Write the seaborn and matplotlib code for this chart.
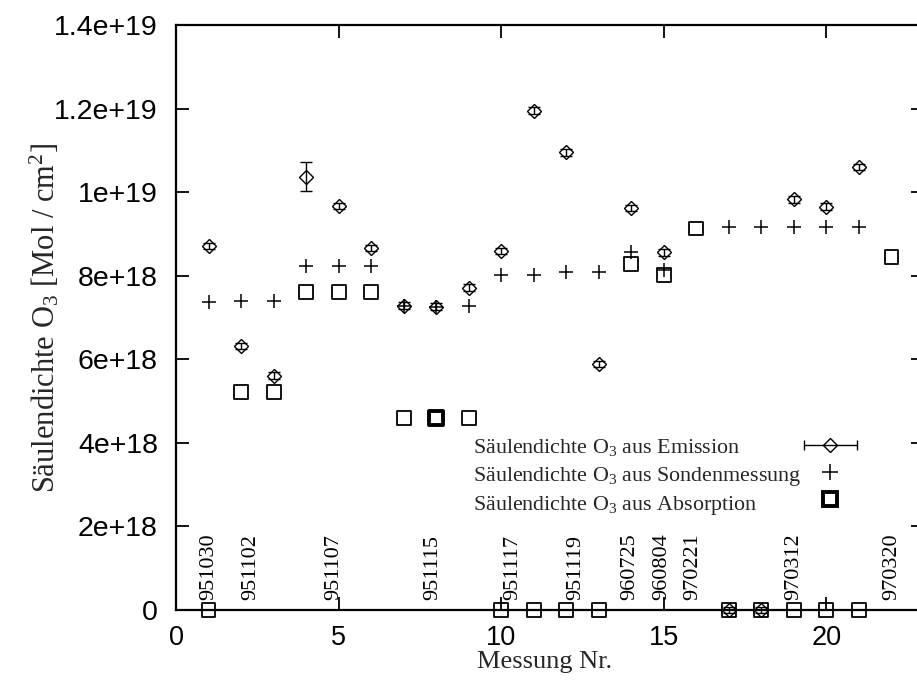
import numpy as np
import pandas as pd
import matplotlib
matplotlib.use("Agg")
import matplotlib.pyplot as plt
import seaborn as sns
from matplotlib.lines import Line2D
from matplotlib.container import ErrorbarContainer
from matplotlib.collections import LineCollection
from matplotlib.legend_handler import HandlerErrorbar
from matplotlib.ticker import FuncFormatter

# --- measurement data (column density of O3, molecules / cm^2) ---
emis_nr = [1, 2, 3, 4, 5, 6, 7, 8, 9, 10, 11, 12, 13, 14, 15, 17, 18, 19, 20, 21]
emis_val = [8.71e18, 6.32e18, 5.61e18, 10.37e18, 9.67e18, 8.66e18, 7.28e18, 7.26e18,
            7.71e18, 8.59e18, 11.95e18, 10.95e18, 5.89e18, 9.62e18, 8.56e18,
            0.0, 0.0, 9.83e18, 9.65e18, 10.60e18]
emis_err = [0.08e18, 0.08e18, 0.08e18, 0.34e18, 0.08e18, 0.08e18, 0.08e18, 0.08e18,
            0.08e18, 0.08e18, 0.08e18, 0.08e18, 0.08e18, 0.08e18, 0.08e18,
            0.08e18, 0.08e18, 0.08e18, 0.08e18, 0.08e18]

sonde_nr = [1, 2, 3, 4, 5, 6, 7, 8, 9, 10, 11, 12, 13, 14, 15, 17, 18, 19, 20, 21]
sonde_val = [7.37e18, 7.40e18, 7.40e18, 8.24e18, 8.24e18, 8.24e18, 7.28e18, 7.26e18,
             7.27e18, 8.01e18, 8.01e18, 8.08e18, 8.08e18, 8.56e18, 8.13e18,
             9.16e18, 9.16e18, 9.16e18, 9.16e18, 9.16e18]

abs_nr = [1, 2, 3, 4, 5, 6, 7, 8, 9, 10, 11, 12, 13, 14, 15, 16, 17, 18, 19, 20, 21, 22]
abs_val = [0.0, 5.22e18, 5.22e18, 7.61e18, 7.61e18, 7.61e18, 4.59e18, 4.59e18, 4.59e18,
           0.0, 0.0, 0.0, 0.0, 8.29e18, 8.01e18, 9.13e18, 0.0, 0.0, 0.0, 0.0, 0.0, 8.44e18]
abs_double = [8]

date_pos = [1.0, 2.3, 4.85, 7.9, 10.35, 12.3, 13.95, 14.95, 15.9, 19.0, 22.0]
date_text = ["951030", "951102", "951107", "951115", "951117", "951119",
             "960725", "960804", "970221", "970312", "970320"]

x_ticks = [0, 5, 10, 15, 20]
y_ticks = [0, 2e18, 4e18, 6e18, 8e18, 1e19, 1.2e19, 1.4e19]

lbl_emis = "Säulendichte O$_3$ aus Emission"
lbl_sonde = "Säulendichte O$_3$ aus Sondenmessung"
lbl_abs = "Säulendichte O$_3$ aus Absorption"

# --- style ---
sns.set_style("ticks")
plt.rcParams["font.family"] = ["Liberation Sans", "DejaVu Sans"]
plt.rcParams["mathtext.fontset"] = "custom"
plt.rcParams["mathtext.rm"] = "Liberation Serif"
plt.rcParams["mathtext.it"] = "Liberation Serif:italic"
plt.rcParams["mathtext.bf"] = "Liberation Serif:bold"
SERIF = ["Liberation Serif", "DejaVu Serif"]

fig = plt.figure(figsize=(9.17, 6.83), dpi=100)
fig.patch.set_facecolor("white")
ax = fig.add_axes([176 / 917, 1 - 610 / 683, 748 / 917, 585 / 683])
ax.set_facecolor("white")

df_sonde = pd.DataFrame({"nr": sonde_nr, "val": sonde_val})
df_abs = pd.DataFrame({"nr": abs_nr, "val": abs_val})
df_abs["bold"] = df_abs["nr"].isin(abs_double)

# emission with error bars
ax.errorbar(emis_nr, emis_val, yerr=emis_err, fmt="D", ms=7.2, mfc="none",
            mec="black", mew=1.0, ecolor="black", elinewidth=1.0, capsize=4.3,
            capthick=1.0, clip_on=False, zorder=3)

# sonde measurements
sns.scatterplot(data=df_sonde, x="nr", y="val", marker="+", s=115, color="black",
                linewidth=1.1, ax=ax, clip_on=False, zorder=3, legend=False)

# absorption
sns.scatterplot(data=df_abs[~df_abs["bold"]], x="nr", y="val", marker="s", s=100,
                facecolor="none", edgecolor="black", linewidth=1.3, ax=ax,
                clip_on=False, zorder=3, legend=False)
sns.scatterplot(data=df_abs[df_abs["bold"]], x="nr", y="val", marker="s", s=110,
                facecolor="none", edgecolor="black", linewidth=2.8, ax=ax,
                clip_on=False, zorder=3, legend=False)

# date labels
for xp, txt in zip(date_pos, date_text):
    ax.text(xp, 0.24e18, txt, rotation=90, ha="center", va="bottom",
            fontsize=16, family=SERIF, color="black")

ax.set_xlim(0, 23)
ax.set_ylim(0, 1.4e19)
ax.set_xticks(x_ticks)
ax.set_yticks(y_ticks)
ax.yaxis.set_major_formatter(FuncFormatter(lambda v, p: f"{v:g}"))
ax.xaxis.set_major_formatter(FuncFormatter(lambda v, p: f"{v:g}"))
ax.tick_params(direction="in", length=9.5, width=1.3, top=True, right=True,
               colors="black")
ax.tick_params(axis="x", pad=11, labelsize=19.5)
ax.tick_params(axis="y", pad=13, labelsize=20.5)
for sp in ax.spines.values():
    sp.set_linewidth(1.6)
    sp.set_color("black")

ax.set_xlabel("Messung Nr.", fontsize=19, family=SERIF)
ax.set_ylabel("Säulendichte O$_3$ [Mol / cm$^2$]", fontsize=22, family=SERIF)
ax.xaxis.set_label_coords(0.493, -0.07)
ax.yaxis.set_label_coords(-0.153, 0.5)

# legend: text column (left aligned) and sample column
leg_top = 0.296
leg_font = {"family": SERIF, "size": 15.8}
blank = [Line2D([], [], ls="none") for _ in range(3)]
leg_text = ax.legend(blank, [lbl_emis, lbl_sonde, lbl_abs], loc="upper left",
                     bbox_to_anchor=((473 - 176) / 748, leg_top), frameon=False,
                     borderpad=0, borderaxespad=0, handlelength=0,
                     handletextpad=0, labelspacing=0.31, prop=leg_font)
ax.add_artist(leg_text)

dl = Line2D([], [], marker="D", ms=7.2, mfc="none", mec="black", mew=1.0,
            color="black", ls="none")
cap = Line2D([], [], marker="|", ms=7, mew=1.0, color="black", ls="none")
bar = LineCollection([], colors="black", linewidths=1.0)
h_emis = ErrorbarContainer((dl, (cap, cap), (bar,)), has_xerr=True,
                           has_yerr=False, label=" ")
h_sonde = Line2D([], [], marker="+", ms=11, mew=1.1, color="black", ls="none")
h_abs = Line2D([], [], marker="s", ms=10, mfc="none", mec="black", mew=2.8,
               ls="none")
ax.legend([h_emis, h_sonde, h_abs], [" ", " ", " "], loc="upper center",
          bbox_to_anchor=((833 - 176) / 748, leg_top), frameon=False,
          borderpad=0, borderaxespad=0, numpoints=1, handlelength=2.4,
          handletextpad=0, labelspacing=0.31, prop=leg_font,
          handler_map={ErrorbarContainer: HandlerErrorbar(xerr_size=1.2)})

fig.savefig("out.png", dpi=100, facecolor="white")
